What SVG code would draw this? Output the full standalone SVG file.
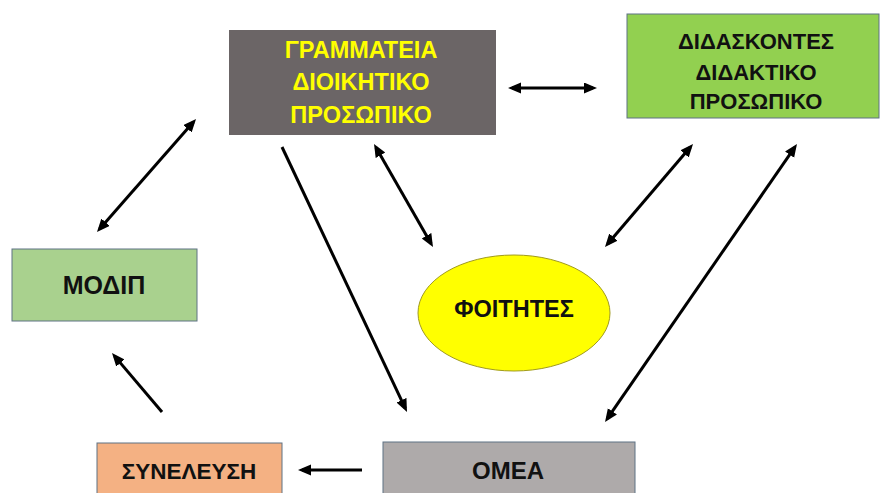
<svg xmlns="http://www.w3.org/2000/svg" width="881" height="493" viewBox="0 0 881 493">
<style>
.box{stroke:#5f7284;stroke-width:1}
.t{font-family:"Liberation Sans",Arial,sans-serif;font-weight:bold;text-anchor:middle;fill:#111}
.y{fill:#ffff00}
.c{stroke:#000;stroke-width:3;fill:none}
</style>
<defs>
<marker id="ah" markerUnits="userSpaceOnUse" markerWidth="14" markerHeight="12" refX="9" refY="5.5" orient="auto-start-reverse">
<path d="M0,0 L13,5.5 L0,11 z" fill="#000"/>
</marker>
</defs>
<rect width="881" height="493" fill="#fff"/>
<g id="grammateia">
<rect x="229" y="30" width="267" height="105" fill="#6b6566"/>
<text class="t y" x="361" y="58" font-size="23.5">ΓΡΑΜΜΑΤΕΙΑ</text>
<text class="t y" x="361" y="90" font-size="23.5">ΔΙΟΙΚΗΤΙΚΟ</text>
<text class="t y" x="361" y="123" font-size="23.5">ΠΡΟΣΩΠΙΚΟ</text>
</g>
<g id="didaskontes">
<rect class="box" x="627" y="14" width="252" height="104" fill="#92d050"/>
<text class="t" x="756" y="49" font-size="22">ΔΙΔΑΣΚΟΝΤΕΣ</text>
<text class="t" x="756" y="80" font-size="22">ΔΙΔΑΚΤΙΚΟ</text>
<text class="t" x="756" y="109" font-size="22">ΠΡΟΣΩΠΙΚΟ</text>
</g>
<g id="modip">
<rect class="box" x="12" y="249" width="185" height="72" fill="#a9d18e"/>
<text class="t" x="104" y="294" font-size="25">ΜΟΔΙΠ</text>
</g>
<g id="foitites">
<ellipse cx="514" cy="313" rx="96" ry="58" fill="#ffff00" stroke="#a09a20" stroke-width="1"/>
<text class="t" x="514" y="317" font-size="23.5">ΦΟΙΤΗΤΕΣ</text>
</g>
<g id="syneleysi">
<rect class="box" x="97" y="443" width="185" height="60" fill="#f4b183"/>
<text class="t" x="189" y="479" font-size="22.5">ΣΥΝΕΛΕΥΣΗ</text>
</g>
<g id="omea">
<rect class="box" x="383" y="442" width="252" height="60" fill="#aeaaaa"/>
<text class="t" x="508" y="479" font-size="24">ΟΜΕΑ</text>
</g>
<g id="connectors">
<line class="c" x1="512" y1="88" x2="593" y2="88" marker-start="url(#ah)" marker-end="url(#ah)"/>
<line class="c" x1="99.6" y1="229" x2="193.4" y2="122" marker-start="url(#ah)" marker-end="url(#ah)"/>
<line class="c" x1="282" y1="147" x2="405.3" y2="408.4" marker-end="url(#ah)"/>
<line class="c" x1="376" y1="147.5" x2="431" y2="243.5" marker-start="url(#ah)" marker-end="url(#ah)"/>
<line class="c" x1="690.4" y1="147" x2="607.6" y2="244" marker-start="url(#ah)" marker-end="url(#ah)"/>
<line class="c" x1="794.7" y1="147.3" x2="607.3" y2="418.7" marker-start="url(#ah)" marker-end="url(#ah)"/>
<line class="c" x1="162" y1="412" x2="114.6" y2="356.1" marker-end="url(#ah)"/>
<line class="c" x1="362" y1="470" x2="302" y2="470" marker-end="url(#ah)"/>
</g>
</svg>
